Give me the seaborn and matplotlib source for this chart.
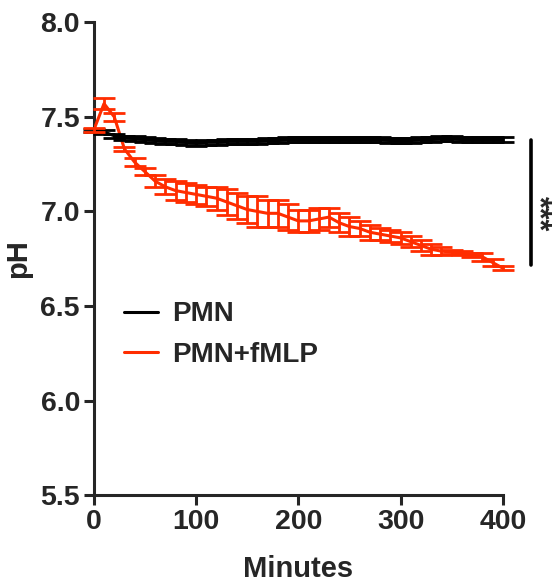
import numpy as np
import pandas as pd
import matplotlib
matplotlib.use("Agg")
import matplotlib.pyplot as plt
import seaborn as sns
from matplotlib.lines import Line2D

minutes = list(range(0, 401, 10))

pmn_mean = [7.43, 7.42, 7.40, 7.39, 7.385, 7.38, 7.375, 7.37, 7.37, 7.365,
            7.36, 7.365, 7.365, 7.37, 7.37, 7.37, 7.37, 7.375, 7.375, 7.38,
            7.38, 7.38, 7.38, 7.38, 7.38, 7.38, 7.38, 7.38, 7.38, 7.375,
            7.375, 7.375, 7.38, 7.38, 7.385, 7.385, 7.38, 7.38, 7.38, 7.38,
            7.38]
pmn_sem = [0.008, 0.01, 0.01, 0.01, 0.012, 0.012, 0.012, 0.012, 0.012, 0.012,
           0.012, 0.012, 0.012, 0.012, 0.012, 0.012, 0.012, 0.012, 0.012, 0.012,
           0.012, 0.012, 0.012, 0.012, 0.012, 0.012, 0.012, 0.012, 0.012, 0.012,
           0.012, 0.012, 0.012, 0.012, 0.015, 0.015, 0.012, 0.012, 0.012, 0.012,
           0.012]

fmlp_mean = [7.43, 7.57, 7.50, 7.33, 7.26, 7.21, 7.16, 7.13, 7.11, 7.10,
             7.09, 7.08, 7.07, 7.05, 7.03, 7.01, 7.00, 6.99, 6.99, 6.97,
             6.95, 6.95, 6.96, 6.97, 6.94, 6.92, 6.91, 6.89, 6.88, 6.87,
             6.86, 6.84, 6.82, 6.80, 6.79, 6.785, 6.78, 6.77, 6.76, 6.73,
             6.70]
fmlp_sem = [0.01, 0.03, 0.02, 0.01, 0.02, 0.02, 0.03, 0.04, 0.05, 0.05,
            0.05, 0.05, 0.06, 0.07, 0.07, 0.07, 0.08, 0.07, 0.07, 0.07,
            0.06, 0.06, 0.06, 0.05, 0.05, 0.05, 0.04, 0.04, 0.03, 0.03,
            0.03, 0.03, 0.03, 0.03, 0.02, 0.01, 0.01, 0.01, 0.02, 0.02,
            0.01]

labels = ["PMN", "PMN+fMLP"]
x_ticks = [0, 100, 200, 300, 400]
y_ticks = [5.5, 6.0, 6.5, 7.0, 7.5, 8.0]
sig_label = "***"

RED = "#FF2D00"
BLACK = "#000000"

sns.set_style("ticks")
plt.rcParams["font.family"] = ["Liberation Sans", "DejaVu Sans"]
plt.rcParams["font.weight"] = "bold"

df = pd.DataFrame({
    "Minutes": minutes * 2,
    "pH": pmn_mean + fmlp_mean,
    "sem": pmn_sem + fmlp_sem,
    "group": [labels[0]] * len(minutes) + [labels[1]] * len(minutes),
})

fig = plt.figure(figsize=(5.55, 5.86), dpi=100)
ax = fig.add_axes([0.169, 0.155, 0.737, 0.807])

palette = {labels[0]: BLACK, labels[1]: RED}
sns.lineplot(data=df, x="Minutes", y="pH", hue="group", palette=palette,
             linewidth=2.2, ax=ax, legend=False, zorder=3)
for g in labels:
    sub = df[df["group"] == g]
    ax.errorbar(sub["Minutes"], sub["pH"], yerr=sub["sem"], fmt="none",
                ecolor=palette[g], elinewidth=2.0, capsize=8, capthick=2.0,
                zorder=3, clip_on=False)

ax.set_xlim(0, 400)
ax.set_ylim(5.5, 8.0)
ax.set_xticks(x_ticks)
ax.set_yticks(y_ticks)
ax.set_yticklabels([f"{v:.1f}" for v in y_ticks])
ax.set_xticklabels([str(v) for v in x_ticks])
ax.tick_params(axis="both", labelsize=20.5, width=2.2, length=7, pad=3)
for lab in ax.get_xticklabels() + ax.get_yticklabels():
    lab.set_fontweight("bold")
ax.set_xlabel("Minutes", fontsize=21, fontweight="bold", labelpad=14)
ax.set_ylabel("pH", fontsize=21, fontweight="bold", labelpad=6)
for s in ["left", "bottom"]:
    ax.spines[s].set_linewidth(2.2)
sns.despine(ax=ax)

# significance bar
ax.plot([428, 428], [6.715, 7.375], color=BLACK, linewidth=2.6,
        solid_capstyle="round", clip_on=False)
ax.text(434, 6.99, sig_label, rotation=270, fontsize=22, fontweight="bold",
        ha="center", va="center", clip_on=False)

handles = [Line2D([], [], color=BLACK, linewidth=2.2),
           Line2D([], [], color=RED, linewidth=2.2)]
ax.legend(handles, labels, loc="upper left", bbox_to_anchor=(0.075, 0.41),
          frameon=False, handlelength=1.2, handletextpad=0.5,
          labelspacing=0.52, borderpad=0, borderaxespad=0,
          prop={"weight": "bold", "size": 20})

fig.savefig("out.png", dpi=100)
